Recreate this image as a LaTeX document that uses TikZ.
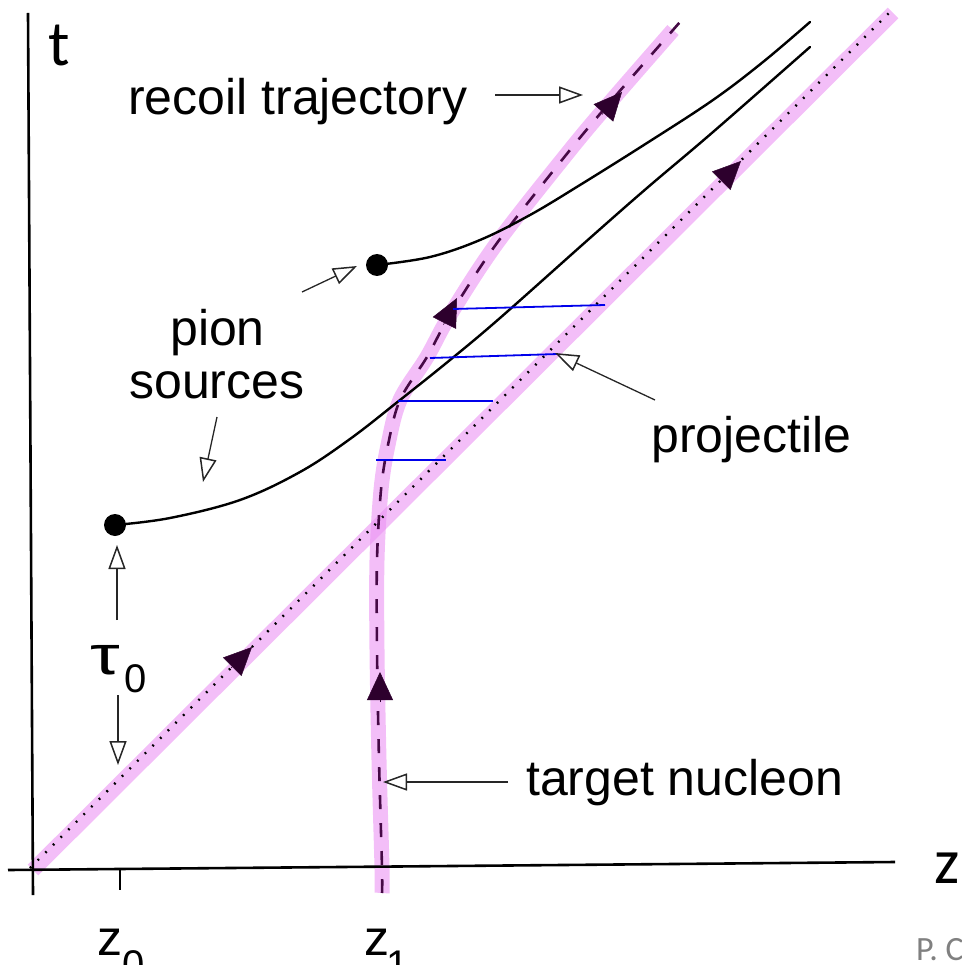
\documentclass[tikz,border=0pt]{standalone}
\usepackage{fontspec}
\setmainfont{Liberation Sans}
\newfontfamily\calib{Carlito}
\usetikzlibrary{arrows.meta}
\definecolor{pinkband}{RGB}{235,147,243}
\definecolor{darkpurp}{RGB}{45,0,45}
\definecolor{dashpurp}{RGB}{70,10,70}
\definecolor{slicecol}{RGB}{0,0,235}
\tikzset{
  band/.style={line width=15pt, draw=pinkband, draw opacity=0.6},
  axisline/.style={line width=2.6pt, black},
  worldline/.style={line width=2.4pt, black, line cap=round},
  dotline/.style={line width=2.4pt, dash pattern=on 1.8pt off 9pt, black},
  dashline/.style={line width=2.6pt, dash pattern=on 14pt off 14pt, dashpurp},
  headtip/.style={draw=darkpurp, fill=darkpurp, line width=0.5pt, -{Triangle[length=28pt,width=26pt]}},
  pointer/.style={line width=1.3pt, black!85, -{Triangle[open,length=24pt,width=17pt,line width=1.5pt]}},
  timeslice/.style={line width=1.8pt, slicecol},
  lbl/.style={inner sep=0pt, anchor=base west, font=\fontsize{50}{56}\selectfont},
  sublbl/.style={inner sep=0pt, anchor=base west, font=\fontsize{40}{46}\selectfont},
  bigl/.style={inner sep=0pt, anchor=base west, font=\calib\fontsize{64}{70}\selectfont},
  source/.style={circle, fill=black, inner sep=0pt, minimum size=22pt}
}
\begin{document}
\begin{tikzpicture}[x=1pt, y=-1pt]
\useasboundingbox (0,0) rectangle (961,965);
\clip (0,0) rectangle (961,965);

% key coordinates
\coordinate (ttop) at (28,13);
\coordinate (tbot) at (33,895);
\coordinate (zleft) at (8,870);
\coordinate (zright) at (895,862);
\coordinate (org) at (33,870);
\coordinate (ptop) at (893,13);

% pink bands
\draw[band] (org) -- (ptop);
\draw[band] plot[smooth, tension=0.55] coordinates {(382,893) (382,868) (379,760) (377,650) (377,560) (381,490) (388,445) (400,400) (427,357) (450,315) (497,243) (570,150) (612,100) (673,30)};

% axes
\draw[axisline] (ttop) -- (tbot);
\draw[axisline] (zleft) -- (zright);
\coordinate (tick0a) at (120,868);
\coordinate (tick0b) at (120,890);
\draw[line width=2pt] (tick0a) -- (tick0b);

% projectile (dotted) and target nucleon / recoil (dashed)
\coordinate (porg) at (30,868);
\coordinate (pend) at (891,11);
\draw[dotline] (porg) -- (pend);
\draw[dashline] plot[smooth, tension=0.55] coordinates {(382,893) (382,868) (379,760) (377,650) (377,560) (381,490) (388,445) (400,400) (427,357) (450,315) (497,243) (570,150) (612,100) (680,22)};

% pion source world lines
\node[source] (s1) at (115,525) {};
\node[source] (s2) at (377,265) {};
\draw[worldline] plot[smooth, tension=0.6] coordinates {(115,525) (170,518) (240,500) (300,472) (350,439) (400,400) (450,360) (500,318) (590,238) (647,188) (713,132) (810,47)};
\draw[worldline] plot[smooth, tension=0.6] coordinates {(377,265) (430,257) (480,240) (530,215) (580,185) (647,143) (713,100) (763,62) (810,22)};

% direction arrowheads
\coordinate (h1a) at (380,702); \coordinate (h1b) at (380,672);
\coordinate (h2a) at (443.5,324.7); \coordinate (h2b) at (457,298);
\coordinate (h3a) at (602,114.5); \coordinate (h3b) at (622,92);
\coordinate (h4a) at (231,668); \coordinate (h4b) at (252,647);
\coordinate (h5a) at (720,182); \coordinate (h5b) at (741,161);
\draw[headtip] (h1a) -- (h1b);
\draw[headtip] (h2a) -- (h2b);
\draw[headtip] (h3a) -- (h3b);
\draw[headtip] (h4a) -- (h4b);
\draw[headtip] (h5a) -- (h5b);

% blue time slices
\coordinate (b1a) at (453,309); \coordinate (b1b) at (605,305);
\coordinate (b2a) at (430,358); \coordinate (b2b) at (558,354);
\coordinate (b3a) at (398,401); \coordinate (b3b) at (493,401);
\coordinate (b4a) at (376,460); \coordinate (b4b) at (446,460);
\draw[timeslice] (b1a) -- (b1b);
\draw[timeslice] (b2a) -- (b2b);
\draw[timeslice] (b3a) -- (b3b);
\draw[timeslice] (b4a) -- (b4b);

% labels
\node[lbl] (recoil) at (128,115) {recoil trajectory};
\node[lbl] (pion) at (170,345) {pion};
\node[lbl] (sources) at (129,398) {sources};
\node[lbl] (proj) at (651,452) {projectile};
\node[lbl] (target) at (526,795) {target nucleon};
\node[inner sep=0pt, anchor=base west] (tau) at (90,674) {\fontsize{50}{56}\selectfont\scalebox{1.5}[1.1]{τ}};
\node[sublbl] (tausub) at (124,692) {0};
\node[lbl] (z0) at (97,955) {z};
\node[sublbl] (z0sub) at (122,978) {0};
\node[lbl] (z1) at (364,955) {z};
\node[sublbl] (z1sub) at (386,978) {1};
\node[bigl] (tlab) at (48,66) {t};
\node[bigl] (zlab) at (934,883) {z};
\node[inner sep=0pt, anchor=base west, font=\calib\fontsize{34}{38}\selectfont, text=black!50] (pc) at (916,960) {P. C};

% label pointers
\coordinate (a1a) at (495,95); \coordinate (a1b) at (583,95);
\coordinate (a2a) at (302,292); \coordinate (a2b) at (357,266);
\coordinate (a3a) at (217,417); \coordinate (a3b) at (203,482);
\coordinate (a4a) at (117,620); \coordinate (a4b) at (117,545);
\coordinate (a5a) at (118,695); \coordinate (a5b) at (118,765);
\coordinate (a6a) at (655,400); \coordinate (a6b) at (555,353);
\coordinate (a7a) at (508,782); \coordinate (a7b) at (383,782);
\draw[pointer] (a1a) -- (a1b);
\draw[pointer] (a2a) -- (a2b);
\draw[pointer] (a3a) -- (a3b);
\draw[pointer] (a4a) -- (a4b);
\draw[pointer] (a5a) -- (a5b);
\draw[pointer] (a6a) -- (a6b);
\draw[pointer] (a7a) -- (a7b);
\end{tikzpicture}
\end{document}
